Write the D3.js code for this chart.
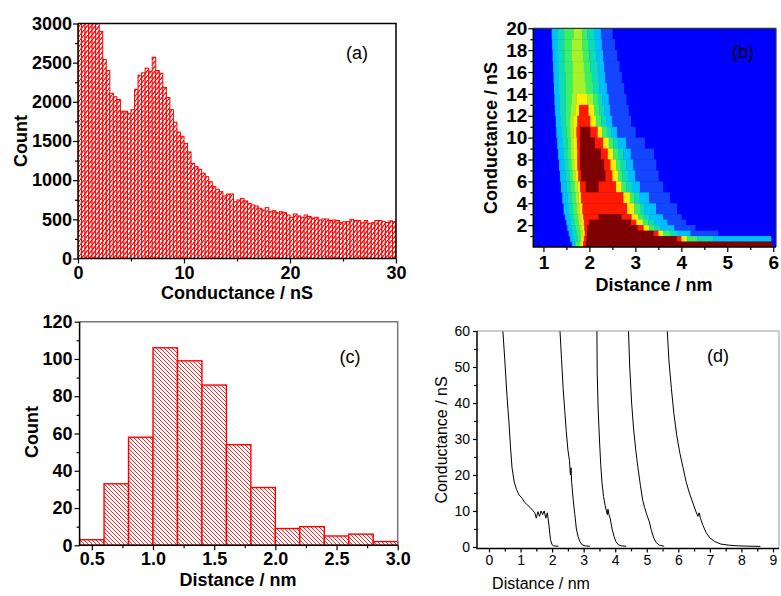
<!DOCTYPE html>
<html>
<head>
<meta charset="utf-8">
<script src="https://cdn.jsdelivr.net/npm/d3@7"></script>
<style>
  body { margin: 0; background: #fff; }
  svg { display: block; }
  text { font-family: "Liberation Sans", Arial, sans-serif; }
</style>
</head>
<body>
<svg id="fig" width="781" height="596"></svg>
<script>
// ---------- (a) conductance histogram: 90 bins of 1/3 nS over 0-30 nS ----------
const condBinWidth = 1 / 3;
const condCounts = [
  4200, 4600, 4400, 3900, 3500, 3200,
  2900, 2540, 2400, 2110, 2065, 2030, 1880, 1880, 1855, 1900,
  2160, 2340, 2370, 2430, 2390, 2570, 2400, 2365, 2185, 2055,
  1900, 1740, 1615, 1560, 1470, 1360, 1215, 1172, 1139, 1088,
  1044, 980, 917, 883, 853, 798, 823, 823, 725, 747,
  768, 735, 704, 683, 670, 641, 619, 649, 597, 610,
  585, 597, 585, 555, 526, 568, 543, 526, 555, 536,
  517, 526, 491, 504, 504, 485, 491, 485, 457, 470,
  470, 500, 485, 485, 457, 485, 449, 457, 485, 485,
  470, 460, 480, 470
];
const condXTicks = [0, 10, 20, 30];
const condYTicks = [0, 500, 1000, 1500, 2000, 2500, 3000];

// ---------- (b) 2D conductance-distance density, colour level per run ----------
// levels: 0 blue, 1 sparse, 2 cyan, 3 cyan-green, 4 green, 5 yellow-green, 6 yellow, 7 red, 8 dark red
const heatLevelColors = ["#0000ff", "#1446ff", "#00bfff", "#10dcb4", "#3cf064", "#a8f028", "#ffee00", "#ff1a00", "#800000"];
const heatRows = [
  { lo: 19, hi: 20, runs: [[1.18,2],[1.3,3],[1.45,4],[1.65,5],[1.85,4],[1.95,3],[2.1,2],[2.25,1],[2.5,0]] },
  { lo: 18, hi: 19, runs: [[1.19,2],[1.3,3],[1.45,4],[1.62,5],[1.85,4],[1.97,3],[2.12,2],[2.27,1],[2.55,0]] },
  { lo: 17, hi: 18, runs: [[1.2,2],[1.31,3],[1.46,4],[1.62,5],[1.86,4],[2.0,3],[2.15,2],[2.3,1],[2.6,0]] },
  { lo: 16, hi: 17, runs: [[1.21,2],[1.32,3],[1.47,4],[1.64,5],[1.88,4],[2.02,3],[2.18,2],[2.32,1],[2.65,0]] },
  { lo: 15, hi: 16, runs: [[1.22,2],[1.33,3],[1.48,4],[1.64,5],[1.9,4],[2.05,3],[2.2,2],[2.35,1],[2.7,0]] },
  { lo: 14, hi: 15, runs: [[1.23,2],[1.34,3],[1.48,4],[1.64,5],[1.92,4],[2.08,3],[2.22,2],[2.38,1],[2.75,0]] },
  { lo: 13, hi: 14, runs: [[1.24,2],[1.35,3],[1.48,4],[1.62,5],[1.72,6],[1.95,5],[2.08,4],[2.18,3],[2.28,2],[2.42,1],[2.8,0]] },
  { lo: 12, hi: 13, runs: [[1.25,2],[1.36,3],[1.48,4],[1.6,5],[1.7,6],[1.78,7],[1.98,6],[2.1,4],[2.22,3],[2.32,2],[2.45,1],[2.85,0]] },
  { lo: 11, hi: 12, runs: [[1.27,2],[1.38,3],[1.48,4],[1.58,5],[1.66,6],[1.74,7],[2.02,6],[2.14,4],[2.26,3],[2.36,2],[2.5,1],[2.9,0]] },
  { lo: 10, hi: 11, runs: [[1.28,2],[1.4,3],[1.5,4],[1.58,5],[1.65,6],[1.72,7],[1.8,8],[2.02,7],[2.18,6],[2.28,4],[2.38,3],[2.48,2],[2.6,1],[3.0,0]] },
  { lo: 9, hi: 10, runs: [[1.3,2],[1.42,3],[1.52,4],[1.6,5],[1.66,6],[1.73,7],[1.8,8],[2.12,7],[2.3,6],[2.42,4],[2.52,3],[2.62,2],[2.8,1],[3.2,0]] },
  { lo: 8, hi: 9, runs: [[1.32,2],[1.44,3],[1.53,4],[1.6,5],[1.66,6],[1.74,7],[1.8,8],[2.25,7],[2.4,6],[2.52,4],[2.62,3],[2.74,2],[2.9,1],[3.4,0]] },
  { lo: 7, hi: 8, runs: [[1.34,2],[1.46,3],[1.55,4],[1.62,5],[1.68,6],[1.74,7],[1.8,8],[2.32,7],[2.46,6],[2.58,4],[2.68,3],[2.8,2],[2.95,1],[3.45,0]] },
  { lo: 6, hi: 7, runs: [[1.36,2],[1.48,3],[1.57,4],[1.64,5],[1.7,6],[1.76,7],[1.82,8],[2.35,7],[2.5,6],[2.62,4],[2.72,3],[2.84,2],[3.0,1],[3.5,0]] },
  { lo: 5, hi: 6, runs: [[1.38,2],[1.5,3],[1.6,4],[1.68,5],[1.74,6],[1.8,7],[1.92,8],[2.2,7],[2.58,6],[2.7,4],[2.8,3],[2.92,2],[3.1,1],[3.6,0]] },
  { lo: 4, hi: 5, runs: [[1.41,2],[1.52,3],[1.62,4],[1.7,5],[1.76,6],[1.82,7],[2.74,6],[2.88,4],[2.98,3],[3.08,2],[3.3,1],[3.75,0]] },
  { lo: 3, hi: 4, runs: [[1.44,2],[1.55,3],[1.64,4],[1.72,5],[1.78,6],[1.85,7],[2.82,6],[2.98,4],[3.1,3],[3.2,2],[3.45,1],[3.9,0]] },
  { lo: 2.5, hi: 3, runs: [[1.47,2],[1.57,3],[1.66,4],[1.74,5],[1.8,6],[1.87,7],[2.2,8],[2.7,7],[2.92,6],[3.06,4],[3.18,3],[3.3,2],[3.6,1],[4.0,0]] },
  { lo: 2, hi: 2.5, runs: [[1.5,2],[1.6,3],[1.68,4],[1.76,5],[1.82,6],[1.88,7],[2.0,8],[2.9,7],[3.02,6],[3.16,4],[3.28,3],[3.4,2],[3.7,1],[4.1,0]] },
  { lo: 1.5, hi: 2, runs: [[1.52,2],[1.62,3],[1.7,4],[1.78,5],[1.84,6],[1.89,7],[1.96,8],[3.05,7],[3.18,6],[3.3,4],[3.42,3],[3.55,2],[3.85,1],[4.3,0]] },
  { lo: 1, hi: 1.5, runs: [[1.55,2],[1.64,3],[1.72,4],[1.8,5],[1.85,6],[1.9,7],[1.95,8],[3.4,7],[3.5,6],[3.6,4],[3.75,3],[3.9,2],[4.2,1],[4.8,0]] },
  { lo: 0.5, hi: 1, runs: [[1.58,2],[1.66,3],[1.74,4],[1.82,6],[1.88,7],[1.94,8],[3.9,7],[4.0,6],[4.12,4],[4.35,3],[4.7,2],[5.95,0]] },
  { lo: 0, hi: 0.5, runs: [[1.62,2],[1.7,4],[1.8,6],[1.86,7],[1.92,8],[5.97,0]] }
];
const heatXTicks = [1, 2, 3, 4, 5, 6];
const heatYTicks = [2, 4, 6, 8, 10, 12, 14, 16, 18, 20];

// ---------- (c) break-off distance histogram ----------
const distEdges = [0.4, 0.6, 0.8, 1.0, 1.2, 1.4, 1.6, 1.8, 2.0, 2.2, 2.4, 2.6, 2.8, 3.0];
const distCounts = [3, 33, 58, 106, 99, 86, 54, 31, 9, 10, 5, 6, 2];
const distXTicks = [0.5, 1.0, 1.5, 2.0, 2.5, 3.0];
const distYTicks = [0, 20, 40, 60, 80, 100, 120];

// ---------- (d) individual conductance traces ----------
const trace1 = [[0.44,60],[0.5,52],[0.57,42],[0.63,35],[0.68,28],[0.73,22],[0.8,18],[0.87,16],[0.95,14.5],[1.05,13.5],[1.12,12.5],[1.2,11.8],[1.3,11],[1.38,10.2],[1.45,9.5],[1.5,8],[1.55,9.8],[1.6,8.5],[1.65,10],[1.7,9],[1.75,10],[1.8,8],[1.85,9.5],[1.9,6],[1.95,2],[2.0,0.6],[2.05,0.3],[2.2,0.2]];
const trace2 = [[2.25,60],[2.3,52],[2.35,44],[2.4,38],[2.45,32],[2.5,27],[2.55,24],[2.58,20],[2.6,22],[2.62,18],[2.67,13],[2.72,9],[2.77,5],[2.82,3],[2.88,1.5],[2.95,0.6],[3.05,0.3],[3.2,0.2]];
const trace3 = [[3.42,60],[3.43,48],[3.46,38],[3.5,30],[3.54,23],[3.58,18],[3.63,14],[3.68,11.5],[3.72,10],[3.75,9],[3.77,10.5],[3.8,9],[3.84,8],[3.9,5],[3.96,3],[4.02,1.5],[4.1,0.6],[4.2,0.3],[4.35,0.2]];
const trace4 = [[4.42,60],[4.46,50],[4.52,40],[4.58,33],[4.65,27],[4.72,22],[4.8,17],[4.87,13],[4.93,11],[5.0,9],[5.08,7],[5.15,4.5],[5.22,2.5],[5.3,1.2],[5.4,0.5],[5.55,0.2]];
const trace5 = [[5.65,60],[5.7,52],[5.78,44],[5.86,37],[5.95,31],[6.05,26],[6.15,22],[6.25,18],[6.35,15],[6.45,12.5],[6.55,10],[6.62,8.5],[6.66,9.5],[6.7,8],[6.78,6],[6.88,4],[7.0,2.5],[7.15,1.5],[7.35,0.8],[7.6,0.5],[7.9,0.3],[8.3,0.2],[8.6,0.15]];
const traceXTicks = [0, 1, 2, 3, 4, 5, 6, 7, 8, 9];
const traceYTicks = [0, 10, 20, 30, 40, 50, 60];

// ---------- drawing ----------
const svg = d3.select("#fig");
svg.append("rect").attr("width", 781).attr("height", 596).attr("fill", "#fff");
const defs = svg.append("defs");

const pA = defs.append("pattern").attr("id", "hatchA")
  .attr("patternUnits", "userSpaceOnUse").attr("width", 4).attr("height", 5);
pA.append("rect").attr("width", 4).attr("height", 5).attr("fill", "#fff");
pA.append("path").attr("d", "M0,5 L4,0").attr("stroke", "#ff0000").attr("stroke-width", 1.3);

const pC = defs.append("pattern").attr("id", "hatchC")
  .attr("patternUnits", "userSpaceOnUse").attr("width", 4).attr("height", 4);
pC.append("rect").attr("width", 4).attr("height", 4).attr("fill", "#fff");
pC.append("path").attr("d", "M-1,-1 L5,5 M-1,3 L1,5 M3,-1 L5,1")
  .attr("stroke", "#ff2a2a").attr("stroke-width", 1);

function clipFor(id, x, y) {
  const [xl, xr] = x.range(), [yb, yt] = y.range();
  defs.append("clipPath").attr("id", id).append("rect")
    .attr("x", xl).attr("y", yt).attr("width", xr - xl).attr("height", yb - yt);
  return `url(#${id})`;
}

function drawAxes(p) {
  const g = svg.append("g");
  const [xl, xr] = p.x.range(), [yb, yt] = p.y.range();
  g.append("path").attr("d", `M${xl},${yt}H${xr}V${yb}`)
    .attr("fill", "none").attr("stroke", p.frame).attr("stroke-width", p.frameW);

  const styleText = sel => sel.selectAll("text")
    .attr("font-size", p.fs).attr("font-weight", p.bold ? "bold" : "normal").attr("fill", "#000");

  if (p.xMinor) {
    g.append("g").attr("transform", `translate(0,${yb})`)
      .call(d3.axisBottom(p.x).tickValues(p.xMinor).tickSize(3).tickFormat(""))
      .call(s => s.select(".domain").remove());
  }
  if (p.yMinor) {
    g.append("g").attr("transform", `translate(${xl},0)`)
      .call(d3.axisLeft(p.y).tickValues(p.yMinor).tickSize(3).tickFormat(""))
      .call(s => s.select(".domain").remove());
  }
  g.append("g").attr("transform", `translate(0,${yb})`)
    .call(d3.axisBottom(p.x).tickValues(p.xTicks).tickSize(p.tick).tickPadding(p.xPad).tickFormat(p.xFmt))
    .call(s => s.select(".domain").remove())
    .call(styleText);
  g.append("g").attr("transform", `translate(${xl},0)`)
    .call(d3.axisLeft(p.y).tickValues(p.yTicks).tickSize(p.tick).tickPadding(p.yPad).tickFormat(p.yFmt))
    .call(s => s.select(".domain").remove())
    .call(styleText);
  g.selectAll(".tick line").attr("stroke", "#000").attr("stroke-width", 1.2);

  g.append("path").attr("d", `M${xl},${yt}V${yb}H${xr}`)
    .attr("fill", "none").attr("stroke", "#000").attr("stroke-width", 1.5);

  const w = p.bold ? "bold" : "normal";
  g.append("text").attr("x", p.xTitle[0]).attr("y", p.xTitle[1]).attr("dy", "0.35em")
    .attr("text-anchor", "middle").attr("font-size", p.tfs).attr("font-weight", w).text(p.xLabel);
  g.append("text").attr("transform", `translate(${p.yTitle[0]},${p.yTitle[1]}) rotate(-90)`)
    .attr("dy", "0.35em").attr("text-anchor", "middle")
    .attr("font-size", p.tfs).attr("font-weight", w).text(p.yLabel);
  g.append("text").attr("x", p.tag[0]).attr("y", p.tag[1]).attr("dy", "0.35em")
    .attr("text-anchor", "middle").attr("font-size", 18).text(p.tagText);
}

// (a)
{
  const x = d3.scaleLinear().domain([0, 30]).range([78, 396]);
  const y = d3.scaleLinear().domain([0, 3000]).range([258.5, 23.5]);
  svg.append("g").attr("clip-path", clipFor("clipA", x, y))
    .selectAll("rect").data(condCounts).join("rect")
    .attr("x", (d, i) => x(i * condBinWidth))
    .attr("width", (d, i) => x((i + 1) * condBinWidth) - x(i * condBinWidth))
    .attr("y", d => y(d)).attr("height", d => y(0) - y(d))
    .attr("fill", "url(#hatchA)").attr("stroke", "#ff0000").attr("stroke-width", 1);
  drawAxes({
    x, y, xTicks: condXTicks, yTicks: condYTicks,
    xMinor: [5, 15, 25], yMinor: d3.range(250, 3000, 500),
    xFmt: d3.format("d"), yFmt: d3.format("d"),
    fs: 18, tfs: 18, bold: true, tick: 5, xPad: 3, yPad: 1,
    frame: "#000", frameW: 1.5,
    xLabel: "Conductance / nS", yLabel: "Count",
    xTitle: [237, 293], yTitle: [21, 141], tag: [357, 53], tagText: "(a)"
  });
}

// (b)
{
  const x = d3.scaleLinear().domain([0.78, 6.06]).range([533.3, 776]);
  const y = d3.scaleLinear().domain([0, 20]).range([247, 28.3]);
  const g = svg.append("g").attr("clip-path", clipFor("clipB", x, y));
  g.append("rect").attr("x", x(0.78)).attr("y", y(20))
    .attr("width", x(6.06) - x(0.78)).attr("height", y(0) - y(20)).attr("fill", heatLevelColors[0]);
  const cells = [];
  heatRows.forEach(r => {
    r.runs.forEach((run, i) => {
      const end = i + 1 < r.runs.length ? r.runs[i + 1][0] : 6.06;
      if (run[1] > 0) cells.push({ x0: run[0], x1: end, lo: r.lo, hi: r.hi, lev: run[1] });
    });
  });
  g.selectAll("rect.cell").data(cells).join("rect").attr("class", "cell")
    .attr("x", d => x(d.x0)).attr("width", d => x(d.x1) - x(d.x0) + 0.3)
    .attr("y", d => y(d.hi)).attr("height", d => y(d.lo) - y(d.hi) + 0.3)
    .attr("fill", d => heatLevelColors[d.lev]);
  drawAxes({
    x, y, xTicks: heatXTicks, yTicks: heatYTicks,
    xMinor: [1.5, 2.5, 3.5, 4.5, 5.5], yMinor: d3.range(1, 20, 2),
    xFmt: d3.format("d"), yFmt: d3.format("d"),
    fs: 19, tfs: 18, bold: true, tick: 5, xPad: 4, yPad: 1,
    frame: "#333", frameW: 1.2,
    xLabel: "Distance / nm", yLabel: "Conductance / nS",
    xTitle: [654, 285], yTitle: [491, 138], tag: [743, 52], tagText: "(b)"
  });
}

// (c)
{
  const x = d3.scaleLinear().domain([0.4, 3.0]).range([79.6, 397.7]);
  const y = d3.scaleLinear().domain([0, 120]).range([545.3, 321.7]);
  svg.append("g").selectAll("rect").data(distCounts).join("rect")
    .attr("x", (d, i) => x(distEdges[i]))
    .attr("width", (d, i) => x(distEdges[i + 1]) - x(distEdges[i]))
    .attr("y", d => y(d)).attr("height", d => y(0) - y(d))
    .attr("fill", "url(#hatchC)").attr("stroke", "#ff0000").attr("stroke-width", 1.4);
  drawAxes({
    x, y, xTicks: distXTicks, yTicks: distYTicks,
    xMinor: [0.75, 1.25, 1.75, 2.25, 2.75], yMinor: d3.range(10, 120, 20),
    xFmt: d3.format(".1f"), yFmt: d3.format("d"),
    fs: 18, tfs: 18, bold: true, tick: 5, xPad: 2, yPad: 2,
    frame: "#777", frameW: 1.5,
    xLabel: "Distance / nm", yLabel: "Count",
    xTitle: [238, 580], yTitle: [32, 432], tag: [350, 357], tagText: "(c)"
  });
}

// (d)
{
  const x = d3.scaleLinear().domain([-0.38, 9.19]).range([477, 779]);
  const y = d3.scaleLinear().domain([-0.4, 60]).range([548.4, 331]);
  const line = d3.line().x(d => x(d[0])).y(d => y(d[1]));
  svg.append("g").attr("clip-path", clipFor("clipD", x, y))
    .selectAll("path").data([trace1, trace2, trace3, trace4, trace5]).join("path")
    .attr("d", line).attr("fill", "none").attr("stroke", "#000").attr("stroke-width", 1);
  drawAxes({
    x, y, xTicks: traceXTicks, yTicks: traceYTicks,
    xMinor: d3.range(0.5, 9, 1), yMinor: d3.range(5, 60, 10),
    xFmt: d3.format("d"), yFmt: d3.format("d"),
    fs: 14, tfs: 16, bold: false, tick: 4, xPad: 3, yPad: 3,
    frame: "#999", frameW: 1,
    xLabel: "Distance / nm", yLabel: "Conductance / nS",
    xTitle: [541, 583], yTitle: [441, 440], tag: [718, 356], tagText: "(d)"
  });
}
</script>
</body>
</html>
